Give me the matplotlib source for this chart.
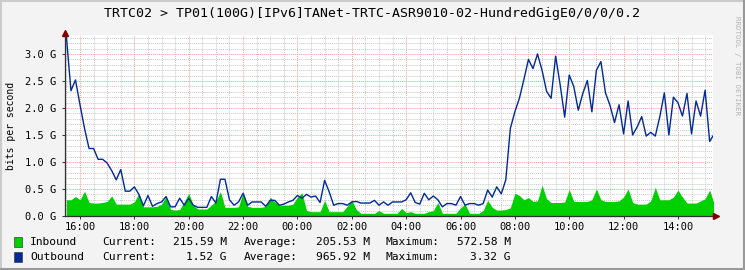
import numpy as np
import matplotlib.pyplot as plt
from matplotlib.lines import Line2D
from matplotlib.patches import Rectangle

plt.rcParams['font.family'] = ['DejaVu Sans Mono']

W, H = 745, 270

title = "TRTC02 > TP01(100G)[IPv6]TANet-TRTC-ASR9010-02-HundredGigE0/0/0/0.2"
tick_hours = [0, 2, 4, 6, 8, 10, 12, 14, 16, 18, 20, 22]
tick_labels = ["16:00", "18:00", "20:00", "22:00", "00:00", "02:00",
               "04:00", "06:00", "08:00", "10:00", "12:00", "14:00"]
y_ticks = [0.0, 0.5, 1.0, 1.5, 2.0, 2.5, 3.0]
y_labels = ["0.0 G", "0.5 G", "1.0 G", "1.5 G", "2.0 G", "2.5 G", "3.0 G"]

# 10 minute samples from 15:30, values in Gbit/s
inbound = [
    0.30, 0.30, 0.36, 0.30, 0.46, 0.25, 0.24, 0.24, 0.25, 0.27, 0.37, 0.22,
    0.22, 0.22, 0.22, 0.26, 0.42, 0.17, 0.17, 0.17, 0.18, 0.22, 0.36, 0.12,
    0.11, 0.12, 0.26, 0.42, 0.20, 0.13, 0.13, 0.13, 0.20, 0.28, 0.45, 0.16,
    0.16, 0.16, 0.17, 0.44, 0.18, 0.16, 0.16, 0.16, 0.18, 0.35, 0.26, 0.20,
    0.20, 0.20, 0.22, 0.35, 0.43, 0.10, 0.08, 0.08, 0.08, 0.29, 0.08, 0.08,
    0.08, 0.08, 0.18, 0.29, 0.12, 0.05, 0.05, 0.05, 0.05, 0.10, 0.05, 0.05,
    0.05, 0.05, 0.14, 0.06, 0.08, 0.05, 0.05, 0.05, 0.08, 0.10, 0.25, 0.05,
    0.05, 0.05, 0.05, 0.15, 0.22, 0.05, 0.05, 0.05, 0.10, 0.29, 0.16, 0.11,
    0.11, 0.12, 0.15, 0.42, 0.38, 0.30, 0.34, 0.27, 0.28, 0.57, 0.32, 0.25,
    0.25, 0.25, 0.26, 0.49, 0.27, 0.27, 0.27, 0.27, 0.30, 0.50, 0.30, 0.27,
    0.27, 0.27, 0.28, 0.35, 0.50, 0.25, 0.22, 0.22, 0.22, 0.28, 0.53, 0.30,
    0.30, 0.30, 0.35, 0.48, 0.35, 0.24, 0.24, 0.24, 0.28, 0.32, 0.48, 0.22,
]
outbound = [
    3.32, 2.32, 2.52, 2.06, 1.62, 1.25, 1.25, 1.05, 1.05, 0.98, 0.84, 0.67,
    0.86, 0.46, 0.46, 0.54, 0.40, 0.19, 0.38, 0.18, 0.23, 0.26, 0.36, 0.17,
    0.17, 0.33, 0.20, 0.33, 0.20, 0.16, 0.16, 0.16, 0.36, 0.24, 0.68, 0.68,
    0.30, 0.20, 0.26, 0.42, 0.20, 0.26, 0.26, 0.26, 0.18, 0.29, 0.29, 0.20,
    0.22, 0.26, 0.29, 0.38, 0.33, 0.40, 0.35, 0.37, 0.25, 0.66, 0.45, 0.20,
    0.23, 0.23, 0.20, 0.26, 0.27, 0.24, 0.24, 0.24, 0.29, 0.20, 0.26, 0.20,
    0.26, 0.26, 0.26, 0.30, 0.43, 0.25, 0.22, 0.42, 0.30, 0.37, 0.30, 0.17,
    0.23, 0.23, 0.20, 0.36, 0.20, 0.23, 0.23, 0.20, 0.23, 0.48, 0.35, 0.54,
    0.41, 0.67, 1.62, 1.93, 2.18, 2.53, 2.90, 2.73, 3.00, 2.70, 2.31, 2.18,
    2.96, 2.43, 1.83, 2.61, 2.40, 1.96, 2.27, 2.51, 1.93, 2.70, 2.86, 2.28,
    2.05, 1.73, 2.06, 1.52, 2.13, 1.50, 1.65, 1.84, 1.48, 1.55, 1.48, 1.84,
    2.28, 1.50, 2.20, 2.10, 1.85, 2.27, 1.52, 2.13, 1.85, 2.33, 1.38, 1.52,
]
hours = -0.5 + np.arange(len(outbound)) / 6.0

legend_rows = [
    ("Inbound", "#00CF00", "215.59 M", "205.53 M", "572.58 M"),
    ("Outbound", "#002A97", "1.52 G", "965.92 M", "3.32 G"),
]


def fx(px):
    return px / W


def fy(py):
    return 1 - py / H


fig = plt.figure(figsize=(W / 100, H / 100), dpi=100, facecolor='#F3F3F3')
ax = fig.add_axes([fx(65), 54 / H, 648 / W, 181 / H])
ax.set_facecolor('white')

ax.fill_between(hours, inbound, 0, color='#00CF00', lw=0, zorder=2)
ax.plot(hours, outbound, color='#002A97', lw=1.0, zorder=3)

ax.set_xlim(-0.552, 23.29)
ax.set_ylim(0, 3.352)

ax.set_xticks(tick_hours)
ax.set_xticklabels(tick_labels)
ax.set_xticks(np.arange(-0.5, 23.5, 0.5), minor=True)
ax.set_yticks(y_ticks)
ax.set_yticklabels(y_labels)
ax.set_yticks(np.arange(0, 3.35, 0.1), minor=True)

ax.set_axisbelow(True)
ax.grid(which='minor', color='#c8c8c8', ls=(0, (1, 1)), lw=0.7)
ax.grid(which='major', color='#f2a0a0', ls=(0, (1, 1)), lw=0.7)

for side in ['top', 'right']:
    ax.spines[side].set_visible(False)
for side in ['left', 'bottom']:
    ax.spines[side].set_color('#303030')
    ax.spines[side].set_linewidth(0.9)
    ax.spines[side].set_zorder(4)

ax.tick_params(axis='both', which='major', length=2, width=0.7, color='#303030',
               labelsize=7.5)
ax.tick_params(axis='x', pad=2.5)
ax.tick_params(axis='y', pad=4)
ax.tick_params(which='minor', length=0)

# arrows at the ends of the axes
ax.plot([0], [1 + 2 / 181], marker='^', ms=4.5, color='#800000',
        transform=ax.transAxes, clip_on=False, zorder=5)
ax.plot([1 + 3 / 648], [0], marker='>', ms=4.5, color='#800000',
        transform=ax.transAxes, clip_on=False, zorder=5)

fig.text(fx(372), fy(14), title, ha='center', va='center', fontsize=9.5)
fig.text(fx(11), fy(126), 'bits per second', rotation=90, ha='center',
         va='center', fontsize=7)
fig.text(fx(737), fy(66), 'RRDTOOL / TOBI OETIKER', rotation=270,
         color='#b4b4b4', fontsize=5.3, ha='center', va='center')

for j, (name, color, cur, avg, mx) in enumerate(legend_rows):
    y = 242 + 15 * j
    fig.patches.append(Rectangle((fx(14), fy(y + 5)), 8 / W, 10 / H,
                                 transform=fig.transFigure, facecolor=color,
                                 edgecolor='#404040', lw=0.5))
    fig.text(fx(30), fy(y), name, ha='left', va='center', fontsize=8.1)
    fig.text(fx(102), fy(y), 'Current:', ha='left', va='center', fontsize=8.1)
    fig.text(fx(227), fy(y), cur, ha='right', va='center', fontsize=8.1)
    fig.text(fx(244), fy(y), 'Average:', ha='left', va='center', fontsize=8.1)
    fig.text(fx(370), fy(y), avg, ha='right', va='center', fontsize=8.1)
    fig.text(fx(386), fy(y), 'Maximum:', ha='left', va='center', fontsize=8.1)
    fig.text(fx(511), fy(y), mx, ha='right', va='center', fontsize=8.1)

# shaded frame around the image
fig.add_artist(Line2D([0, 1], [fy(0.7), fy(0.7)], color='#CBCBCB', lw=1.5))
fig.add_artist(Line2D([fx(0.7), fx(0.7)], [0, 1], color='#CBCBCB', lw=1.5))
fig.add_artist(Line2D([0, 1], [fy(269.3), fy(269.3)], color='#999999', lw=1.5))
fig.add_artist(Line2D([fx(744.3), fx(744.3)], [0, 1], color='#999999', lw=1.5))

fig.savefig('out.png', dpi=100, facecolor=fig.get_facecolor())
